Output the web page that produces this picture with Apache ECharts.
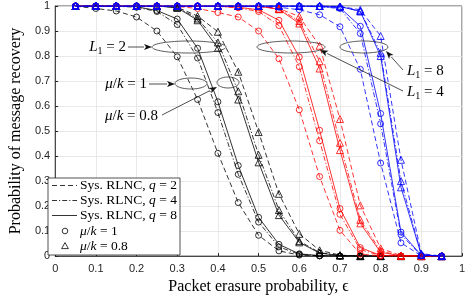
<!DOCTYPE html>
<html><head><meta charset="utf-8">
<script src="https://cdn.jsdelivr.net/npm/echarts@6/dist/echarts.min.js"></script>
<style>html,body{margin:0;padding:0;background:#fff}#c{width:471px;height:300px}</style>
</head><body><div id="c"></div>
<script>
// x values (packet erasure probability)
const eps = [0.05,0.1,0.15,0.2,0.25,0.3,0.35,0.4,0.45,0.5,0.55,0.6,0.65,0.7,0.75,0.8,0.85,0.9,0.95];
const xTicks = [0,0.1,0.2,0.3,0.4,0.5,0.6,0.7,0.8,0.9,1];
// L1 = 2 (black)
const L2_mu1_q2 = [0.999,0.99,0.98,0.956,0.90,0.797,0.626,0.411,0.214,0.083,0.021,0.004,0.001,0,0,0,0,0,0];
const L2_mu1_q4 = [1,1,0.999,0.995,0.978,0.926,0.792,0.574,0.327,0.136,0.037,0.007,0.001,0,0,0,0,0,0];
const L2_mu1_q8 = [1,1,1,0.997,0.982,0.948,0.831,0.617,0.362,0.155,0.047,0.009,0.002,0,0,0,0,0,0];
const L2_mu08_q2 = [1,1,1,1,1,0.995,0.96,0.897,0.737,0.496,0.249,0.089,0.023,0.004,0,0,0,0,0];
const L2_mu08_q4 = [1,1,1,1,1,0.994,0.95,0.854,0.659,0.405,0.184,0.06,0.014,0.002,0,0,0,0,0];
const L2_mu08_q8 = [1,1,1,1,1,0.993,0.943,0.832,0.626,0.375,0.164,0.055,0.012,0.002,0,0,0,0,0];
// L1 = 4 (red)
const L4_mu1_q2 = [1,1,1,1,1,0.998,0.99,0.974,0.956,0.90,0.789,0.585,0.318,0.103,0.008,0.001,0,0,0];
const L4_mu1_q4 = [1,1,1,1,1,1,1,0.998,0.993,0.978,0.922,0.757,0.461,0.167,0.026,0.002,0,0,0];
const L4_mu1_q8 = [1,1,1,1,1,1,1,0.999,0.995,0.985,0.943,0.796,0.503,0.19,0.034,0.003,0,0,0];
const L4_mu08_q2 = [1,1,1,1,1,1,1,1,1,0.999,0.99,0.958,0.841,0.548,0.203,0.031,0.002,0,0];
const L4_mu08_q4 = [1,1,1,1,1,1,1,1,1,0.999,0.988,0.94,0.779,0.453,0.145,0.02,0.001,0,0];
const L4_mu08_q8 = [1,1,1,1,1,1,1,1,1,0.999,0.987,0.93,0.75,0.424,0.131,0.015,0.001,0,0];
// L1 = 8 (blue)
const L8_mu1_q2 = [1,1,1,1,1,1,1,1,0.999,0.998,0.995,0.985,0.965,0.917,0.747,0.372,0.053,0.001,0];
const L8_mu1_q4 = [1,1,1,1,1,1,1,1,1,1,1,0.999,0.997,0.99,0.89,0.529,0.086,0.002,0];
const L8_mu1_q8 = [1,1,1,1,1,1,1,1,1,1,1,1,0.998,0.993,0.919,0.57,0.096,0.003,0];
const L8_mu08_q2 = [1,1,1,1,1,1,1,1,1,1,1,1,1,0.998,0.985,0.88,0.385,0.01,0];
const L8_mu08_q4 = [1,1,1,1,1,1,1,1,1,1,1,1,1,0.998,0.98,0.8125,0.30,0.006,0];
const L8_mu08_q8 = [1,1,1,1,1,1,1,1,1,1,1,1,1,0.998,0.978,0.80,0.275,0.005,0];

const DASH = [5,3], DASHDOT = [5,2,1.2,2];
const SERIF = "'Liberation Serif', 'DejaVu Serif', serif";
const SANS = "'Liberation Sans', Arial, sans-serif";

function mk(data, color, dash, sym){
  return {
    type:'line', data: eps.map((x,i)=>[x,data[i]]),
    symbol: sym, symbolSize: sym==='circle'?6:7, showAllSymbol:true,
    lineStyle:{color:color, width:0.8, type:dash},
    itemStyle:{color:'rgba(0,0,0,0)', borderColor:color, borderWidth:0.8},
    emphasis:{disabled:true}, silent:true, animation:false, z:2
  };
}
const series = [
  mk(L2_mu1_q2,'#000',DASH,'circle'), mk(L2_mu1_q4,'#000',DASHDOT,'circle'), mk(L2_mu1_q8,'#000','solid','circle'),
  mk(L2_mu08_q2,'#000',DASH,'triangle'), mk(L2_mu08_q4,'#000',DASHDOT,'triangle'), mk(L2_mu08_q8,'#000','solid','triangle'),
  mk(L4_mu1_q2,'#ff0000',DASH,'circle'), mk(L4_mu1_q4,'#ff0000',DASHDOT,'circle'), mk(L4_mu1_q8,'#ff0000','solid','circle'),
  mk(L4_mu08_q2,'#ff0000',DASH,'triangle'), mk(L4_mu08_q4,'#ff0000',DASHDOT,'triangle'), mk(L4_mu08_q8,'#ff0000','solid','triangle'),
  mk(L8_mu1_q2,'#0000ff',DASH,'circle'), mk(L8_mu1_q4,'#0000ff',DASHDOT,'circle'), mk(L8_mu1_q8,'#0000ff','solid','circle'),
  mk(L8_mu08_q2,'#0000ff',DASH,'triangle'), mk(L8_mu08_q4,'#0000ff',DASHDOT,'triangle'), mk(L8_mu08_q8,'#0000ff','solid','triangle')
];

const rich = {
  i:{fontFamily:SERIF, fontStyle:'italic', fontSize:15, fill:'#000'},
  n:{fontFamily:SERIF, fontSize:15, fill:'#000'},
  s:{fontFamily:SERIF, fontSize:10, fill:'#000', padding:[8,0,0,0]}
};
function label(x,y,text,align){
  return {type:'text', x:x, y:y, z:20, style:{text:text, rich:rich, align:align||'left', verticalAlign:'middle', fill:'#000'}};
}
function ell(cx,cy,rx,ry){
  return {type:'ellipse', z:20, shape:{cx:cx,cy:cy,rx:rx,ry:ry}, style:{fill:'none', stroke:'#333', lineWidth:0.8}};
}
function arrow(x1,y1,x2,y2){
  const a=Math.atan2(y2-y1,x2-x1), L=8, W=3;
  const bx=x2-L*Math.cos(a), by=y2-L*Math.sin(a);
  const px=-Math.sin(a)*W, py=Math.cos(a)*W;
  return [
    {type:'line', z:20, shape:{x1:x1,y1:y1,x2:bx,y2:by}, style:{stroke:'#222', lineWidth:0.8}},
    {type:'polygon', z:20, shape:{points:[[x2,y2],[bx+px,by+py],[bx+2*Math.cos(a),by+2*Math.sin(a)],[bx-px,by-py]]}, style:{fill:'#111'}}
  ];
}
// legend
const lgX=48, lgY=178, lgW=132, lgH=77;
const rows=[185.5,200.5,215.5,231,246];
const legend=[{type:'rect', z:30, shape:{x:lgX,y:lgY,width:lgW,height:lgH}, style:{fill:'#fff', stroke:'#262626', lineWidth:0.8}}];
const lt=[DASH,DASHDOT,null];
const lrich={i:{fontFamily:SERIF,fontStyle:'italic',fontSize:13.5},n:{fontFamily:SERIF,fontSize:13.5}};
['2','4','8'].forEach((q,k)=>{
  legend.push({type:'line', z:31, shape:{x1:52,y1:rows[k],x2:77,y2:rows[k]}, style:{stroke:'#000', lineWidth:0.8, lineDash:lt[k]}});
  legend.push({type:'text', z:31, x:80, y:rows[k], style:{text:'{n|Sys. RLNC, }{i|q}{n| = '+q+'}', rich:lrich, verticalAlign:'middle'}});
});
legend.push({type:'circle', z:31, shape:{cx:65,cy:rows[3],r:2.8}, style:{fill:'none', stroke:'#000', lineWidth:0.8}});
legend.push({type:'polygon', z:31, shape:{points:[[65,rows[4]-3.4],[68.4,rows[4]+2.6],[61.6,rows[4]+2.6]]}, style:{fill:'none', stroke:'#000', lineWidth:0.8}});
legend.push({type:'text', z:31, x:80, y:rows[3], style:{text:'{i|μ}{n|/}{i|k}{n| = 1}', rich:lrich, verticalAlign:'middle'}});
legend.push({type:'text', z:31, x:80, y:rows[4], style:{text:'{i|μ}{n|/}{i|k}{n| = 0.8}', rich:lrich, verticalAlign:'middle'}});

const graphics = [].concat(
  [ell(189,47,37,6), ell(191,83.5,16,5.5), ell(228,82.5,11,5.5), ell(291,47,34,6), ell(364,47,24,6)],
  arrow(128,47,152,47), arrow(149,84,175,84), arrow(162,115,217,87),
  arrow(403,70,386,51), arrow(403,91,320,50),
  [label(126,47,'{i|L}{s|1}{n| = 2}','right'), label(147,84,'{i|μ}{n|/}{i|k}{n| = 1}','right'),
   label(158,116,'{i|μ}{n|/}{i|k}{n| = 0.8}','right'),
   label(407,71,'{i|L}{s|1}{n| = 8}','left'), label(407,92,'{i|L}{s|1}{n| = 4}','left')],
  legend
);

const chart = echarts.init(document.getElementById('c'), null, {renderer:'canvas'});
chart.setOption({
  animation:false,
  grid:{left:42, right:9, top:6, bottom:38, show:true, borderColor:'#262626', borderWidth:0.8, backgroundColor:'#fff'},
  xAxis:{type:'value', min:0, max:1, interval:0.1,
    name:'Packet erasure probability, ϵ', nameLocation:'middle', nameGap:22,
    nameTextStyle:{fontFamily:SERIF, fontSize:16, color:'#000'},
    axisLine:{show:true, onZero:false, lineStyle:{color:'#262626', width:0.8}},
    axisTick:{show:true, inside:true, length:3, lineStyle:{color:'#262626'}},
    axisLabel:{fontFamily:SANS, fontSize:11, color:'#262626', margin:7,
      formatter:v=>{const t=xTicks.find(t=>Math.abs(t-v)<1e-9); return t===undefined?'':String(t);}},
    splitLine:{show:true, lineStyle:{color:'#e3e3e3', width:0.8}}},
  yAxis:{type:'value', min:0, max:1, interval:0.1,
    name:'Probability of message recovery', nameLocation:'middle', nameGap:31,
    nameTextStyle:{fontFamily:SERIF, fontSize:16, color:'#000'},
    axisLine:{show:true, lineStyle:{color:'#262626', width:0.8}},
    axisTick:{show:true, inside:true, length:3, lineStyle:{color:'#262626'}},
    axisLabel:{fontFamily:SANS, fontSize:11, color:'#262626', margin:5,
      formatter:v=>String(Math.round(v*10)/10)},
    splitLine:{show:true, lineStyle:{color:'#e3e3e3', width:0.8}}},
  series: series,
  graphic: graphics
});
</script></body></html>
